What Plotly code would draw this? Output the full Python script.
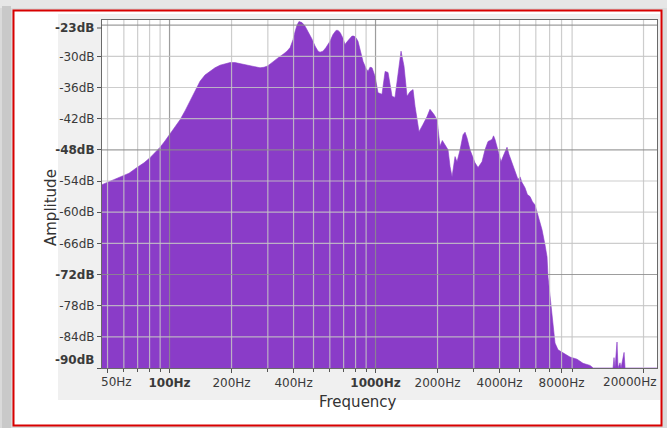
import numpy as np
import plotly.graph_objects as go

# Spectrum read as (frequency in Hz, level in dB)
freq_hz = [
    47, 52, 57.5, 63.6, 69.5, 75.2, 80.4, 85, 90, 95, 100.5, 106.3, 112.5,
    118.9, 125.7, 132.9, 140.6, 148.6, 157.3, 166.2, 175.9, 185.9, 196.6,
    207.8, 220, 232.4, 246, 259.9, 275, 287.4, 297, 307.3, 318, 336.1, 356,
    371.7, 385, 397.5, 407, 415.6, 425, 439.5, 455, 470, 492, 508.3, 526,
    537.5, 556, 574.8, 601, 621.6, 643, 657.2, 673, 695, 711, 726.8, 752,
    768.5, 786, 803.6, 822, 840.4, 870, 898.7, 920, 939.8, 962, 995, 1028,
    1075, 1113, 1150, 1203, 1243, 1286, 1330, 1375, 1422, 1470, 1521, 1555,
    1590, 1626, 1700, 1779, 1838, 1923, 1989, 2056, 2110, 2175, 2249, 2300,
    2352, 2432, 2487, 2573, 2660, 2720, 2781, 2875, 2960, 3041, 3145, 3288,
    3400, 3516, 3677, 3740, 3803, 3933, 4067, 4159, 4349, 4447, 4599, 4756,
    4918, 5030, 5143, 5317, 5460, 5624, 5780, 5948, 6150, 6432, 6650, 6801,
    6877, 7033, 7272, 7436, 7690, 8133, 8794, 9510, 10169, 10997, 11400,
    14220, 14380, 14540, 14870, 15040, 15380, 15550, 16090, 16270, 23250,
]
level_db = [
    -54.7, -54.0, -53.3, -52.5, -51.4, -50.5, -49.5, -48.6, -47.5, -46.3, -45.0, -43.7, -42.2,
    -40.5, -38.7, -36.6, -34.8, -33.6, -32.9, -32.2, -31.7, -31.4, -31.2,
    -31.2, -31.4, -31.6, -31.9, -32.1, -32.2, -32.1, -31.9, -31.5, -31.0, -30.3, -29.6,
    -29.0, -28.3, -26.8, -25.2, -24.0, -23.3, -23.5, -24.2, -25.2, -26.7, -28.0, -29.0,
    -29.2, -29.0, -28.3, -27.1, -25.8, -25.0, -25.0, -25.4, -26.5, -27.7, -27.2, -26.4,
    -26.1, -26.1, -26.4, -27.1, -28.7, -31.0, -32.3, -32.9, -32.1, -32.2, -33.9, -37.0,
    -37.3, -32.9, -33.1, -37.7, -37.9, -33.9, -29.0, -31.9, -37.7, -36.8, -36.4, -39.6,
    -42.2, -44.5, -43.1, -41.6, -40.2, -41.2, -42.2, -47.3, -46.2, -47.0, -48.0, -51.2,
    -53.2, -49.3, -50.3, -48.0, -45.1, -44.6, -45.7, -48.0, -49.2, -50.5, -51.4, -50.3,
    -48.0, -46.4, -46.0, -45.3, -46.0, -48.0, -50.3, -49.3, -47.5, -48.9, -50.5, -51.8,
    -53.7, -53.2, -54.3, -55.3, -56.6, -57.0, -58.0, -58.6, -60.5, -63.4, -66.3, -68.6,
    -72.5, -76.3, -81.3, -85.2, -86.5, -87.1, -87.9, -88.3, -89.1, -89.5, -90.0,
    -90.0, -88.0, -90.0, -85.0, -90.0, -89.0, -90.0, -87.0, -90.0, -90.0,
]

x_range_hz = [47.0, 23250.0]
y_range_db = [-90, -23]

x_tick_hz = [50, 100, 200, 400, 1000, 2000, 4000, 8000, 20000]
x_tick_text = ["", "<b>100Hz</b>", "200Hz", "400Hz", "<b>1000Hz</b>",
               "2000Hz", "4000Hz", "8000Hz", ""]
x_minor_hz = [60, 70, 80, 90, 300, 500, 600, 700, 800, 900,
              3000, 5000, 6000, 7000, 9000]
grid_hz = [50, 60, 70, 80, 90, 200, 300, 400, 500, 600, 700, 800, 900,
           2000, 3000, 4000, 5000, 6000, 7000, 8000, 9000, 20000]
grid_hz_major = [100, 1000]

y_tick_db = [-90, -84, -78, -72, -66, -60, -54, -48, -42, -36, -30]
y_tick_text = ["", "-84dB", "-78dB", "<b>-72dB</b>", "-66dB", "-60dB",
               "-54dB", "<b>-48dB</b>", "-42dB", "-36dB", "-30dB"]
grid_db = [-30, -36, -42, -54, -60, -66, -78, -84]
grid_db_major = [-24, -48, -72]

W, H = 667, 428
ML, MR, MT, MB = 102, 10, 20, 60
PW, PH = W - ML - MR, H - MT - MB

FONT = "DejaVu Sans"
TXT = "#3a3a3a"
PURPLE = "#8a3cc8"
GRID_MINOR = "rgba(196,196,196,0.85)"
GRID_MAJOR = "rgba(140,140,140,0.85)"


def px(X):
    return (X - ML) / PW


def py(Y):
    return (H - MB - Y) / PH


def vlines(values):
    xs, ys = [], []
    for v in values:
        xs += [v, v, None]
        ys += [y_range_db[0], y_range_db[1], None]
    return xs, ys


fig = go.Figure()
fig.add_trace(go.Scatter(
    x=x_range_hz, y=[y_range_db[0]] * 2, mode="lines",
    line=dict(width=0, color=PURPLE), hoverinfo="skip", showlegend=False))
fig.add_trace(go.Scatter(
    x=freq_hz, y=level_db, mode="lines", fill="tonexty",
    fillcolor=PURPLE, line=dict(width=0.6, color=PURPLE), showlegend=False))

# vertical grid drawn over the filled spectrum
gx, gy = vlines(grid_hz)
fig.add_trace(go.Scatter(x=gx, y=gy, mode="lines", hoverinfo="skip",
                         line=dict(color=GRID_MINOR, width=1.2),
                         showlegend=False))
gx, gy = vlines(grid_hz_major)
fig.add_trace(go.Scatter(x=gx, y=gy, mode="lines", hoverinfo="skip",
                         line=dict(color=GRID_MAJOR, width=1.2),
                         showlegend=False))

shapes = []
# window shadow, red frame and grey panel behind the axes
shapes.append(dict(type="rect", xref="paper", yref="paper", layer="below",
                   x0=px(0), x1=px(W), y0=py(0), y1=py(8),
                   fillcolor="#e6e6e6", line=dict(width=0)))
shapes.append(dict(type="rect", xref="paper", yref="paper", layer="below",
                   x0=px(2), x1=px(11), y0=py(6), y1=py(H),
                   fillcolor="#c9c9c9", line=dict(width=0)))
shapes.append(dict(type="rect", xref="paper", yref="paper", layer="below",
                   x0=px(13.5), x1=px(661.5), y0=py(10.5), y1=py(425.5),
                   fillcolor="#ffffff", line=dict(color="#d80000", width=2)))
shapes.append(dict(type="rect", xref="paper", yref="paper", layer="below",
                   x0=px(58), x1=px(660), y0=py(14), y1=py(400),
                   fillcolor="#f0f0f0", line=dict(width=0)))
shapes.append(dict(type="rect", xref="paper", yref="paper", layer="below",
                   x0=0, x1=1, y0=0, y1=1,
                   fillcolor="#ffffff", line=dict(width=0)))

for db in grid_db:
    shapes.append(dict(type="line", xref="paper", yref="y", layer="above",
                       x0=0, x1=1, y0=db, y1=db,
                       line=dict(color=GRID_MINOR, width=1.2)))
for db in grid_db_major:
    shapes.append(dict(type="line", xref="paper", yref="y", layer="above",
                       x0=0, x1=1, y0=db, y1=db,
                       line=dict(color=GRID_MAJOR, width=1.2)))
# tick next to the top-of-range label
shapes.append(dict(type="line", xref="paper", yref="y", layer="above",
                   ysizemode="pixel", yanchor=y_range_db[1], y0=-8, y1=-8,
                   x0=px(97), x1=0, line=dict(color="#555555", width=1)))

tickfont = dict(family=FONT, size=12, color=TXT)
annotations = [
    dict(text="<b>-23dB</b>", xref="paper", yref="y", x=0, y=y_range_db[1],
         xanchor="right", yanchor="middle", xshift=-6, yshift=-8,
         showarrow=False, font=tickfont),
    dict(text="<b>-90dB</b>", xref="paper", yref="y", x=0, y=y_range_db[0],
         xanchor="right", yanchor="middle", xshift=-6, yshift=8,
         showarrow=False, font=tickfont),
    dict(text="50Hz", xref="x", yref="paper", x=np.log10(50), y=0,
         xanchor="center", yanchor="top", xshift=9, yshift=-5,
         showarrow=False, font=tickfont),
    dict(text="20000Hz", xref="x", yref="paper", x=np.log10(20000), y=0,
         xanchor="center", yanchor="top", xshift=-14, yshift=-5,
         showarrow=False, font=tickfont),
    dict(text="Amplitude", xref="paper", yref="paper", x=px(40), y=py(208),
         textangle=-90, showarrow=False,
         font=dict(family=FONT, size=15, color="#333333")),
    dict(text="Frequency", xref="paper", yref="paper", x=px(358), y=py(413),
         showarrow=False, font=dict(family=FONT, size=15, color="#333333")),
]

fig.update_layout(
    width=W, height=H,
    margin=dict(l=ML, r=MR, t=MT, b=MB, pad=0),
    paper_bgcolor="#dadada",
    plot_bgcolor="#ffffff",
    shapes=shapes,
    annotations=annotations,
    showlegend=False,
    xaxis=dict(
        type="log", range=[np.log10(x_range_hz[0]), np.log10(x_range_hz[1])],
        showgrid=False, zeroline=False,
        showline=True, mirror=True, linecolor="#6a6a6a", linewidth=1,
        ticks="outside", ticklen=4, tickcolor="#555555",
        tickmode="array", tickvals=x_tick_hz, ticktext=x_tick_text,
        tickfont=tickfont,
        minor=dict(tickmode="array", tickvals=x_minor_hz, ticks="outside",
                   ticklen=3, tickcolor="#555555", showgrid=False),
    ),
    yaxis=dict(
        range=y_range_db, showgrid=False, zeroline=False,
        showline=True, mirror=True, linecolor="#6a6a6a", linewidth=1,
        ticks="outside", ticklen=4, tickcolor="#555555",
        tickmode="array", tickvals=y_tick_db, ticktext=y_tick_text,
        tickfont=tickfont,
    ),
)

fig.write_html("out.html")
